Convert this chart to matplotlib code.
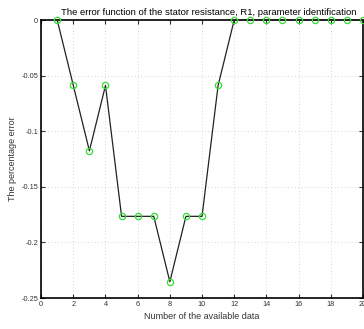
import matplotlib
matplotlib.use("Agg")
import matplotlib.pyplot as plt

plt.rcParams['font.family'] = ['Liberation Sans', 'DejaVu Sans']

samples = [1, 2, 3, 4, 5, 6, 7, 8, 9, 10, 11, 12, 13, 14, 15, 16, 17, 18, 19, 20]
errors = [0, -0.0588, -0.1176, -0.0588, -0.1765, -0.1765, -0.1765, -0.2353,
          -0.1765, -0.1765, -0.0588, 0, 0, 0, 0, 0, 0, 0, 0, 0]
xticks = [0, 2, 4, 6, 8, 10, 12, 14, 16, 18, 20]
yticks = [0, -0.05, -0.1, -0.15, -0.2, -0.25]
ytick_labels = ['0', '-0.05', '-0.1', '-0.15', '-0.2', '-0.25']

fig = plt.figure(figsize=(3.64, 3.29), dpi=100)
ax = fig.add_axes([0.113, 0.094, 0.884, 0.845])

ax.plot(samples, errors, color='#222222', linewidth=0.9,
        marker='o', markersize=4.5, markerfacecolor='none',
        markeredgecolor='#33dd33', markeredgewidth=0.9, clip_on=False, zorder=3)

ax.set_xlim(0, 20)
ax.set_ylim(-0.25, 0)
ax.set_xticks(xticks)
ax.set_yticks(yticks)
ax.set_yticklabels(ytick_labels)
ax.tick_params(direction='in', labelsize=5.3, length=3, width=0.8, pad=2,
               top=True, right=True, colors='#333333')
ax.grid(True, linestyle=(0, (1, 3)), color='#c8c8c8', linewidth=0.6)
for s in ax.spines.values():
    s.set_linewidth(1.2)

ax.set_title('The error function of the stator resistance, R1, parameter identification',
             fontsize=6.8, pad=3.5, x=0.52)
ax.set_xlabel('Number of the available data', fontsize=6.5, color='#333333', labelpad=3)
ax.set_ylabel('The percentage error', fontsize=6.5, color='#333333', labelpad=3)

fig.savefig('out.png', dpi=100)
